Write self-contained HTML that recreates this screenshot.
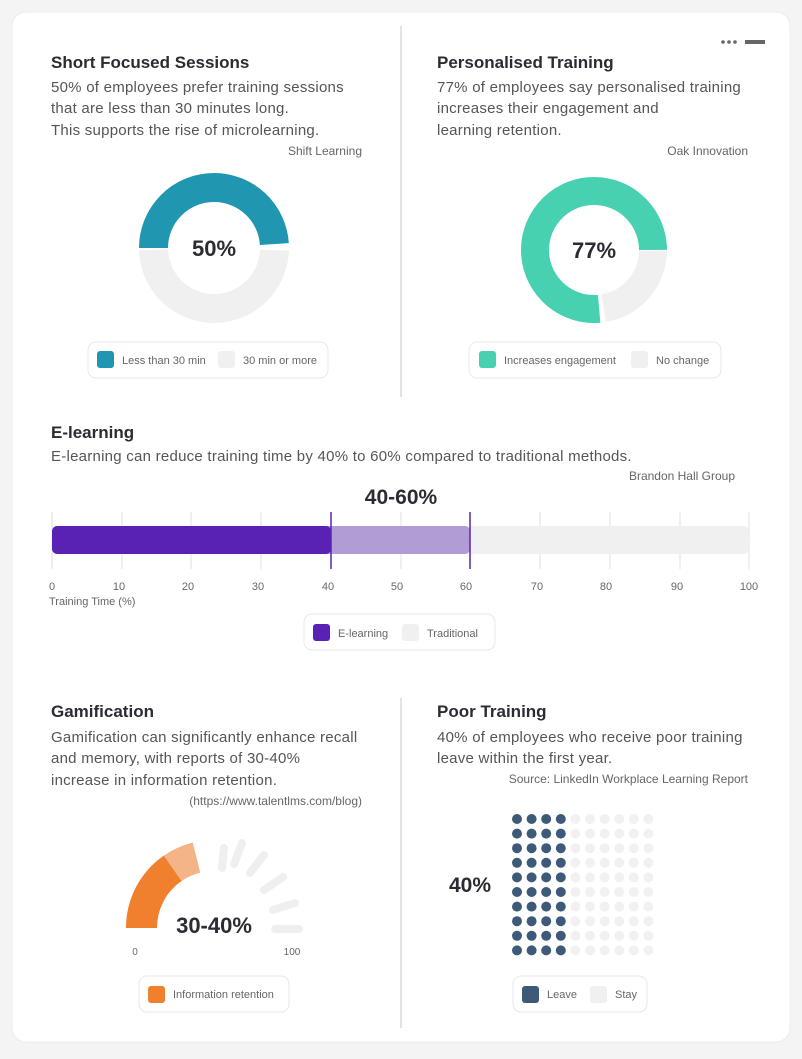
<!DOCTYPE html>
<html><head><meta charset="utf-8"><style>
html,body{margin:0;padding:0;background:#f4f4f4;}
body{width:802px;height:1054px;overflow:hidden;font-family:"Liberation Sans",sans-serif;}
</style></head><body>
<svg width="802" height="1054" viewBox="0 0 802 1054" xmlns="http://www.w3.org/2000/svg" font-family="Liberation Sans, sans-serif">
<rect x="12" y="12" width="778" height="1030" rx="14" fill="#fff" stroke="#ececec"/>
<line x1="401" y1="26" x2="401" y2="397" stroke="#e2e2e2" stroke-width="2"/>
<line x1="401" y1="698" x2="401" y2="1028" stroke="#e2e2e2" stroke-width="2"/>
<circle cx="723" cy="42" r="1.8" fill="#666"/><circle cx="729" cy="42" r="1.8" fill="#666"/><circle cx="735" cy="42" r="1.8" fill="#666"/>
<rect x="745" y="40" width="20" height="4" fill="#666"/>

<text x="51" y="68" font-size="17" font-weight="bold" fill="#2b2b33">Short Focused Sessions</text>
<g font-size="15" fill="#555" letter-spacing="0.25">
<text x="51" y="92">50% of employees prefer training sessions</text>
<text x="51" y="113">that are less than 30 minutes long.</text>
<text x="51" y="135">This supports the rise of microlearning.</text>
</g>
<text x="362" y="155" font-size="12" fill="#666" text-anchor="end">Shift Learning</text>
<circle cx="214" cy="248" r="60.5" fill="none" stroke="#f0f0f0" stroke-width="29" stroke-dasharray="186 194" transform="rotate(2 214 248)"/>
<circle cx="214" cy="248" r="60.5" fill="none" stroke="#2196b0" stroke-width="29" stroke-dasharray="186 194" transform="rotate(180 214 248)"/>
<text x="214" y="256" font-size="22" font-weight="bold" fill="#2b2b33" text-anchor="middle">50%</text>
<rect x="88" y="342" width="240" height="36" rx="8" fill="#fff" stroke="#e8e8e8"/>
<rect x="97" y="351" width="17" height="17" rx="3" fill="#2196b0"/>
<text x="122" y="364" font-size="11" fill="#666">Less than 30 min</text>
<rect x="218" y="351" width="17" height="17" rx="3" fill="#f0f0f0"/>
<text x="243" y="364" font-size="11" fill="#666">30 min or more</text>

<text x="437" y="68" font-size="17" font-weight="bold" fill="#2b2b33">Personalised Training</text>
<g font-size="15" fill="#555" letter-spacing="0.25">
<text x="437" y="92">77% of employees say personalised training</text>
<text x="437" y="113">increases their engagement and</text>
<text x="437" y="135">learning retention.</text>
</g>
<text x="748" y="155" font-size="12" fill="#666" text-anchor="end">Oak Innovation</text>
<circle cx="594" cy="250" r="59" fill="none" stroke="#f0f0f0" stroke-width="28" stroke-dasharray="82 290" transform="rotate(1 594 250)"/>
<circle cx="594" cy="250" r="59" fill="none" stroke="#48d1b0" stroke-width="28" stroke-dasharray="283 90" transform="rotate(85 594 250)"/>
<text x="594" y="258" font-size="22" font-weight="bold" fill="#2b2b33" text-anchor="middle">77%</text>
<rect x="469" y="342" width="252" height="36" rx="8" fill="#fff" stroke="#e8e8e8"/>
<rect x="479" y="351" width="17" height="17" rx="3" fill="#48d1b0"/>
<text x="504" y="364" font-size="11" fill="#666">Increases engagement</text>
<rect x="631" y="351" width="17" height="17" rx="3" fill="#f0f0f0"/>
<text x="656" y="364" font-size="11" fill="#666">No change</text>

<text x="51" y="438" font-size="17" font-weight="bold" fill="#2b2b33">E-learning</text>
<text x="51" y="461" font-size="15" fill="#555" letter-spacing="0.25">E-learning can reduce training time by 40% to 60% compared to traditional methods.</text>
<text x="735" y="480" font-size="12" fill="#666" text-anchor="end">Brandon Hall Group</text>
<text x="401" y="504" font-size="21" font-weight="bold" fill="#2b2b33" text-anchor="middle">40-60%</text>
<g stroke="#e4e4e4" stroke-width="1.2">
<line x1="52" y1="512" x2="52" y2="569"/><line x1="122" y1="512" x2="122" y2="569"/><line x1="191" y1="512" x2="191" y2="569"/><line x1="261" y1="512" x2="261" y2="569"/><line x1="401" y1="512" x2="401" y2="569"/><line x1="540" y1="512" x2="540" y2="569"/><line x1="610" y1="512" x2="610" y2="569"/><line x1="680" y1="512" x2="680" y2="569"/><line x1="749" y1="512" x2="749" y2="569"/>
</g>
<rect x="52" y="526" width="697" height="28" rx="5" fill="#f0f0f0"/>
<rect x="320" y="526" width="150" height="28" rx="5" fill="#b19cd6"/>
<rect x="52" y="526" width="279" height="28" rx="5" fill="#5a22b4"/>
<line x1="331" y1="512" x2="331" y2="569" stroke="#5a22b4" stroke-width="1.5"/>
<line x1="470" y1="512" x2="470" y2="569" stroke="#5a22b4" stroke-width="1.5"/>
<g font-size="11" fill="#666" text-anchor="middle">
<text x="52" y="590">0</text><text x="119" y="590">10</text><text x="188" y="590">20</text><text x="258" y="590">30</text><text x="328" y="590">40</text><text x="397" y="590">50</text><text x="466" y="590">60</text><text x="537" y="590">70</text><text x="606" y="590">80</text><text x="677" y="590">90</text><text x="749" y="590">100</text>
</g>
<text x="49" y="605" font-size="11" fill="#666">Training Time (%)</text>
<rect x="304" y="614" width="191" height="36" rx="8" fill="#fff" stroke="#e8e8e8"/>
<rect x="313" y="624" width="17" height="17" rx="3" fill="#5a22b4"/>
<text x="338" y="637" font-size="11" fill="#666">E-learning</text>
<rect x="402" y="624" width="17" height="17" rx="3" fill="#f0f0f0"/>
<text x="427" y="637" font-size="11" fill="#666">Traditional</text>

<text x="51" y="717" font-size="17" font-weight="bold" fill="#2b2b33">Gamification</text>
<g font-size="15" fill="#555" letter-spacing="0.25">
<text x="51" y="742">Gamification can significantly enhance recall</text>
<text x="51" y="763">and memory, with reports of 30-40%</text>
<text x="51" y="785">increase in information retention.</text>
</g>
<text x="362" y="805" font-size="12" fill="#666" text-anchor="end">(https://www.talentlms.com/blog)</text>
<path d="M171.4 869.3 A72.5 72.5 0 0 1 196.5 857.6" fill="none" stroke="#f5b488" stroke-width="31"/>
<path d="M141.5 928 A72.5 72.5 0 0 1 172.6 868.3" fill="none" stroke="#f07f2e" stroke-width="31"/>
<g stroke="#efefef" stroke-width="8" stroke-linecap="round">
<line x1="275" y1="929" x2="299" y2="929"/>
<line x1="273" y1="910" x2="295" y2="903"/>
<line x1="264" y1="890" x2="283" y2="877"/>
<line x1="250" y1="873" x2="264" y2="855"/>
<line x1="234" y1="864" x2="242" y2="843"/>
<line x1="222" y1="868" x2="224" y2="848"/>
</g>
<text x="214" y="933" font-size="22" font-weight="bold" fill="#2b2b33" text-anchor="middle">30-40%</text>
<text x="135" y="955" font-size="10" fill="#666" text-anchor="middle">0</text>
<text x="292" y="955" font-size="10" fill="#666" text-anchor="middle">100</text>
<rect x="139" y="976" width="150" height="36" rx="8" fill="#fff" stroke="#e8e8e8"/>
<rect x="148" y="986" width="17" height="17" rx="3" fill="#f07f2e"/>
<text x="173" y="998" font-size="11" fill="#666">Information retention</text>

<text x="437" y="717" font-size="17" font-weight="bold" fill="#2b2b33">Poor Training</text>
<g font-size="15" fill="#555" letter-spacing="0.25">
<text x="437" y="742">40% of employees who receive poor training</text>
<text x="437" y="763">leave within the first year.</text>
</g>
<text x="748" y="783" font-size="12" fill="#666" text-anchor="end">Source: LinkedIn Workplace Learning Report</text>
<text x="470" y="892" font-size="21" font-weight="bold" fill="#2b2b33" text-anchor="middle">40%</text>
<rect x="513" y="976" width="134" height="36" rx="8" fill="#fff" stroke="#e8e8e8"/>
<rect x="522" y="986" width="17" height="17" rx="3" fill="#3d5a78"/>
<text x="547" y="998" font-size="11" fill="#666">Leave</text>
<rect x="590" y="986" width="17" height="17" rx="3" fill="#f0f0f0"/>
<text x="615" y="998" font-size="11" fill="#666">Stay</text>
</svg>
<script>
var s=document.querySelector('svg'),ns='http://www.w3.org/2000/svg';
for(var r=0;r<10;r++)for(var c=0;c<10;c++){var e=document.createElementNS(ns,'circle');e.setAttribute('cx',517+c*14.6);e.setAttribute('cy',819+r*14.6);e.setAttribute('r',5);e.setAttribute('fill',c<4?'#3d5a78':'#f1f1f1');s.appendChild(e);}
</script>
</body></html>
